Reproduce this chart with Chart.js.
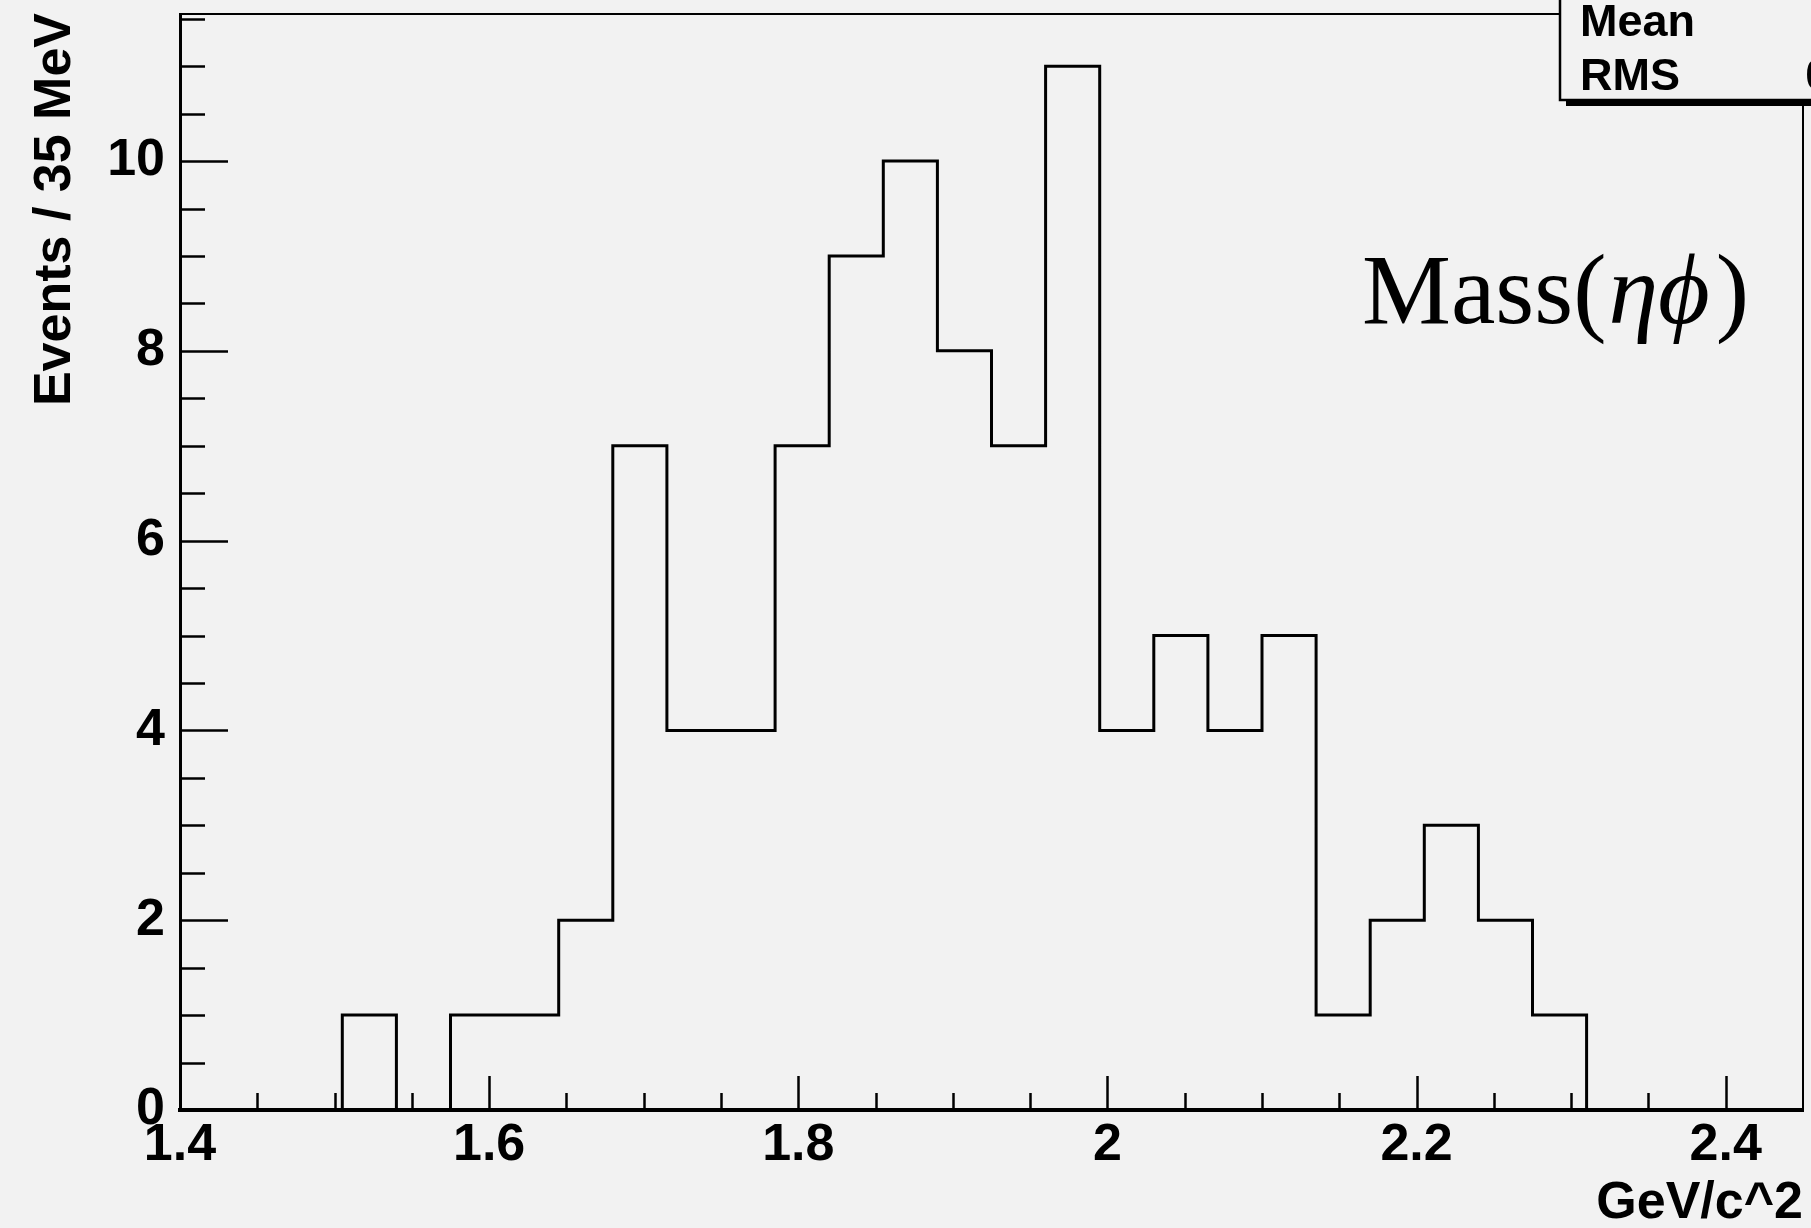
<!DOCTYPE html>
<html>
<head>
<meta charset="utf-8">
<script src="https://cdn.jsdelivr.net/npm/chart.js@4.4.1/dist/chart.umd.min.js"></script>
<style>
  html, body { margin: 0; padding: 0; background: #f2f2f2; }
  #wrap { width: 1811px; height: 1228px; }
</style>
</head>
<body>
<div id="wrap"><canvas id="c" width="1811" height="1228"></canvas></div>
<script>
// Histogram of the eta-phi invariant mass, 35 MeV bins from 1.4 to 2.45 GeV/c^2
const binStart = 1.4;
const binWidth = 0.035;
const counts = [0, 0, 0, 1, 0, 1, 1, 2, 7, 4, 4, 7, 9, 10, 8, 7, 11, 4, 5, 4, 5, 1, 2, 3, 2, 1, 0, 0, 0, 0];
const xTickValues = [1.4, 1.6, 1.8, 2.0, 2.2, 2.4];
const yTickValues = [0, 2, 4, 6, 8, 10];
const xTitle = 'GeV/c^2';
const yTitle = 'Events / 35 MeV';
const xMin = 1.4, xMax = 2.45;
const yMin = 0, yMax = 11.55;

const LABEL_FONT = 'bold 52px "Liberation Sans", Arial, sans-serif';

// Bin edges -> step outline points (left edge of each bin carries its content)
const edges = counts.map((_, i) => +(binStart + i * binWidth).toFixed(3));
const outline = counts.map((n, i) => ({ x: edges[i], y: n }));
outline.push({ x: +(binStart + counts.length * binWidth).toFixed(3), y: 0 });

// Summary statistics from the bin contents
const total = counts.reduce((a, b) => a + b, 0);
const centers = edges.map(e => e + binWidth / 2);
const mean = counts.reduce((s, n, i) => s + n * centers[i], 0) / total;
const rms = Math.sqrt(counts.reduce((s, n, i) => s + n * (centers[i] - mean) ** 2, 0) / total);

const decorations = {
  id: 'decorations',
  afterDatasetsDraw(chart) {
    const ctx = chart.ctx;
    const xs = chart.scales.x, ys = chart.scales.y;
    const area = chart.chartArea;
    ctx.save();
    ctx.strokeStyle = '#000';
    ctx.lineCap = 'butt';

    // inward tick marks on the y axis
    ctx.lineWidth = 2.5;
    for (let k = 0; k <= 40; k++) {
      const v = k * 0.5;
      if (v > ys.max) break;
      const y = Math.round(ys.getPixelForValue(v)) + 0.5;
      const len = (k % 4 === 0) ? 48 : 25;
      ctx.beginPath();
      ctx.moveTo(area.left, y);
      ctx.lineTo(area.left + len, y);
      ctx.stroke();
    }
    // inward tick marks on the x axis
    for (let k = 0; k <= 20; k++) {
      const v = +(xMin + k * 0.05).toFixed(3);
      const x = Math.round(xs.getPixelForValue(v)) + 0.5;
      const len = (k % 4 === 0) ? 34 : 17;
      ctx.beginPath();
      ctx.moveTo(x, area.bottom);
      ctx.lineTo(x, area.bottom - len);
      ctx.stroke();
    }

    // top and right frame
    ctx.lineWidth = 2;
    ctx.beginPath();
    ctx.moveTo(area.left, area.top);
    ctx.lineTo(area.right, area.top);
    ctx.lineTo(area.right, area.bottom);
    ctx.stroke();

    // axis titles
    ctx.fillStyle = '#000';
    ctx.font = LABEL_FONT;
    ctx.textAlign = 'right';
    ctx.textBaseline = 'alphabetic';
    ctx.fillText(xTitle, area.right, 1218);

    ctx.save();
    ctx.translate(70, 13);
    ctx.rotate(-Math.PI / 2);
    ctx.textAlign = 'right';
    ctx.fillText(yTitle, 0, 0);
    ctx.restore();

    // plot caption: Mass(eta phi)
    ctx.textAlign = 'left';
    let cx = 1362;
    const cy = 323;
    const serif = '"Liberation Serif", "DejaVu Serif", serif';
    ctx.font = '100px ' + serif;
    ctx.fillText('Mass(', cx, cy);
    cx += ctx.measureText('Mass(').width + 2;
    ctx.font = 'italic 100px ' + serif;
    ctx.fillText('\u03B7\u03D5', cx, cy);
    cx += ctx.measureText('\u03B7\u03D5').width + 6;
    ctx.font = '100px ' + serif;
    ctx.fillText(')', cx, cy);

    // statistics box with its drop shadow
    const bx = 1560, by = -20, bw = 400, bh = 120;
    ctx.fillStyle = '#000';
    ctx.fillRect(bx + 6, by + 6, bw, bh);
    ctx.fillStyle = '#f2f2f2';
    ctx.fillRect(bx, by, bw, bh);
    ctx.lineWidth = 2.5;
    ctx.strokeRect(bx, by, bw, bh);
    ctx.fillStyle = '#000';
    ctx.font = 'bold 45px "Liberation Sans", Arial, sans-serif';
    ctx.textAlign = 'left';
    ctx.fillText('Mean', 1580, 36);
    ctx.fillText('RMS', 1580, 90);
    ctx.textAlign = 'right';
    ctx.fillText(mean.toPrecision(4), 1943, 36);
    ctx.fillText(rms.toPrecision(4), 1943, 90);
    ctx.restore();
  }
};

new Chart(document.getElementById('c'), {
  type: 'line',
  data: {
    datasets: [{
      data: outline,
      stepped: 'before',
      borderColor: '#000',
      borderWidth: 3,
      pointRadius: 0,
      fill: false,
      tension: 0
    }]
  },
  options: {
    responsive: false,
    animation: false,
    devicePixelRatio: 1,
    layout: { padding: { top: 14, right: 8, left: 0, bottom: 0 } },
    plugins: { legend: { display: false }, tooltip: { enabled: false } },
    scales: {
      x: {
        type: 'linear',
        min: xMin,
        max: xMax,
        grid: { display: false, drawTicks: false },
        border: { display: true, color: '#000', width: 4 },
        afterBuildTicks: s => { s.ticks = xTickValues.map(v => ({ value: v })); },
        afterFit: s => { s.height = 118; s.paddingLeft = 0; s.paddingRight = 0; },
        ticks: {
          color: '#000',
          padding: 4,
          maxRotation: 0,
          autoSkip: false,
          font: { family: '"Liberation Sans", Arial, sans-serif', size: 52, weight: 'bold' },
          callback: v => String(+v.toFixed(2))
        }
      },
      y: {
        type: 'linear',
        min: yMin,
        max: yMax,
        grid: { display: false, drawTicks: false },
        border: { display: true, color: '#000', width: 3 },
        afterBuildTicks: s => { s.ticks = yTickValues.map(v => ({ value: v })); },
        afterFit: s => { s.width = 180; s.paddingTop = 0; s.paddingBottom = 0; },
        ticks: {
          color: '#000',
          padding: 15,
          autoSkip: false,
          font: { family: '"Liberation Sans", Arial, sans-serif', size: 52, weight: 'bold' },
          callback: v => String(v)
        }
      }
    }
  },
  plugins: [decorations]
});
</script>
</body>
</html>
